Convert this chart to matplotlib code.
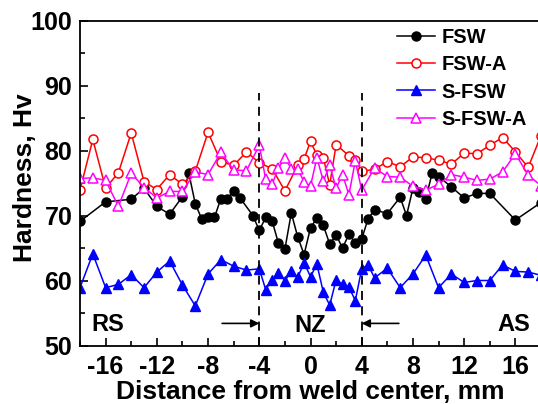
import matplotlib
matplotlib.use("Agg")
import matplotlib.pyplot as plt
from matplotlib.ticker import MultipleLocator

plt.rcParams['font.family'] = ['Liberation Sans', 'DejaVu Sans']
plt.rcParams['font.weight'] = 'bold'
plt.rcParams['axes.unicode_minus'] = False

# ---- data ----
fsw_x = [-18, -16, -14, -13, -12, -11, -10, -9.5, -9, -8.5, -8, -7.5, -7, -6.5, -6, -5.5,
         -4.5, -4, -3.5, -3, -2.5, -2, -1.5, -1, -0.5, 0, 0.5, 1, 1.5, 2, 2.5, 3, 3.5, 4,
         4.5, 5, 6, 7, 7.5, 8, 8.5, 9, 9.5, 10, 11, 12, 13, 14, 16, 18]
fsw_y = [69.1, 72.1, 72.5, 74.2, 71.4, 70.2, 72.9, 76.5, 71.8, 69.5, 69.7, 69.7, 72.6, 72.6, 73.8, 72.7,
         70.0, 67.7, 69.7, 69.2, 65.7, 64.8, 70.4, 66.7, 64.0, 68.1, 69.6, 68.5, 65.6, 67.0, 65.0, 67.1, 65.8, 66.4,
         69.5, 70.9, 70.3, 72.8, 70.0, 74.2, 73.6, 72.6, 76.5, 76.0, 74.4, 72.7, 73.4, 73.4, 69.3, 72.0]

fswa_x = [-18, -17, -16, -15, -14, -13, -12, -11, -10, -9, -8, -7, -6, -5, -4, -3, -2, -1,
          -0.5, 0, 0.5, 1, 1.5, 2, 3, 3.5, 4, 5, 6, 7, 8, 9, 10, 11, 12, 13, 14, 15, 16, 17, 18]
fswa_y = [73.9, 81.7, 74.2, 76.6, 82.7, 75.2, 74.0, 76.3, 74.8, 76.8, 82.8, 78.3, 77.7, 79.8, 78.1, 77.2, 73.8, 77.7,
          78.7, 81.4, 79.3, 78.9, 74.7, 80.9, 79.2, 78.5, 76.8, 77.1, 78.3, 77.5, 79.0, 78.9, 78.5, 77.9, 79.6, 79.5,
          80.8, 82.0, 79.8, 77.4, 82.3]

sfsw_x = [-18, -17, -16, -15, -14, -13, -12, -11, -10, -9, -8, -7, -6, -5, -4, -3.5, -3, -2.5, -2,
          -1.5, -1, -0.5, 0, 0.5, 1, 1.5, 2, 2.5, 3, 3.5, 4, 4.5, 5, 6, 7, 8, 9, 10, 11, 12, 13, 14,
          15, 16, 17, 18]
sfsw_y = [58.9, 64.1, 58.9, 59.4, 60.9, 58.9, 61.3, 63.0, 59.3, 56.1, 61.0, 63.2, 62.2, 61.6, 61.8, 58.6, 60.1, 61.2, 60.0,
          61.4, 60.5, 62.7, 60.6, 62.5, 58.2, 56.2, 60.1, 59.4, 59.0, 56.9, 61.8, 62.4, 60.4, 61.9, 58.9, 61.0, 63.9, 58.9,
          61.0, 59.7, 60.0, 60.0, 62.4, 61.4, 61.3, 60.8]

sfswa_x = [-18, -17, -16, -15, -14, -13, -12, -11, -10, -9, -8, -7, -6, -5, -4, -3.5, -3, -2.5, -2,
           -1.5, -1, -0.5, 0, 0.5, 1, 1.5, 2, 2.5, 3, 3.5, 4, 5, 6, 7, 8, 9, 10, 11, 12, 13, 14, 15,
           16, 17, 18]
sfswa_y = [75.7, 75.8, 75.4, 71.4, 76.5, 74.3, 72.7, 73.7, 73.7, 76.7, 76.3, 79.7, 77.0, 76.9, 80.8, 75.6, 74.8, 77.3, 78.9,
           77.2, 77.1, 75.2, 74.5, 78.9, 75.3, 77.7, 74.2, 76.3, 73.2, 78.4, 73.9, 77.3, 76.0, 75.9, 74.5, 73.9, 74.8, 76.3,
           75.9, 75.4, 75.6, 76.7, 79.5, 76.2, 74.6]

labels = ['FSW', 'FSW-A', 'S-FSW', 'S-FSW-A']
zone_lines = [-4, 4]
x_ticks = [-16, -12, -8, -4, 0, 4, 8, 12, 16]
y_ticks = [50, 60, 70, 80, 90, 100]

# ---- figure ----
fig = plt.figure(figsize=(5.38, 4.04), dpi=100)
ax = fig.add_axes([80/538, 1 - 345.5/404, 461/538, 325/404])

ms = 6.5
lw = 1.1
ax.plot(fsw_x, fsw_y, color='black', marker='o', ms=ms, lw=lw, label=labels[0])
ax.plot(fswa_x, fswa_y, color='red', marker='o', ms=ms, lw=lw, mfc='white', mew=1.1, label=labels[1])
ax.plot(sfsw_x, sfsw_y, color='blue', marker='^', ms=ms + 0.8, lw=lw, label=labels[2])
ax.plot(sfswa_x, sfswa_y, color='magenta', marker='^', ms=ms + 0.8, lw=lw, mfc='white', mew=1.1, label=labels[3])

for xv in zone_lines:
    ax.plot([xv, xv], [50, 88.9], color='black', lw=1.3, ls=(0, (5, 3.5)))

ax.set_xlim(-18, 18)
ax.set_ylim(50, 100)
ax.set_xticks(x_ticks)
ax.set_yticks(y_ticks)
ax.xaxis.set_minor_locator(MultipleLocator(2))
ax.yaxis.set_minor_locator(MultipleLocator(5))
ax.tick_params(which='both', direction='in', width=1.2, labelsize=18)
ax.tick_params(which='major', length=6)
ax.tick_params(which='minor', length=3.5)
ax.tick_params(axis='x', which='both', top=False, pad=6.5)
ax.tick_params(axis='y', which='both', right=False, pad=5.5)
for s in ax.spines.values():
    s.set_linewidth(1.3)

ax.set_xlabel('Distance from weld center, mm', fontsize=19, fontweight='bold', labelpad=1)
ax.set_ylabel('Hardness, Hv', fontsize=19, fontweight='bold')
ax.yaxis.set_label_coords((37 - 80) / 461, 0.515)

ax.text(-15.8, 53.2, 'RS', fontsize=17, fontweight='bold', ha='center', va='center')
ax.text(0.0, 53.0, 'NZ', fontsize=17, fontweight='bold', ha='center', va='center')
ax.text(15.9, 53.2, 'AS', fontsize=17, fontweight='bold', ha='center', va='center')
ax.annotate('', xy=(-4, 53.4), xytext=(-6.9, 53.4),
            arrowprops=dict(arrowstyle='-|>', color='black', lw=1.2, mutation_scale=12, shrinkA=0, shrinkB=0))
ax.annotate('', xy=(4, 53.4), xytext=(6.9, 53.4),
            arrowprops=dict(arrowstyle='-|>', color='black', lw=1.2, mutation_scale=12, shrinkA=0, shrinkB=0))

leg = ax.legend(loc='upper left', bbox_to_anchor=(397/538, 1 - 28/404), bbox_transform=fig.transFigure,
                frameon=False, fontsize=14.5, handlelength=1.9, handletextpad=0.3,
                labelspacing=0.41, borderpad=0, borderaxespad=0)
for t in leg.get_texts():
    t.set_fontweight('bold')

fig.savefig('out.png', dpi=100)
